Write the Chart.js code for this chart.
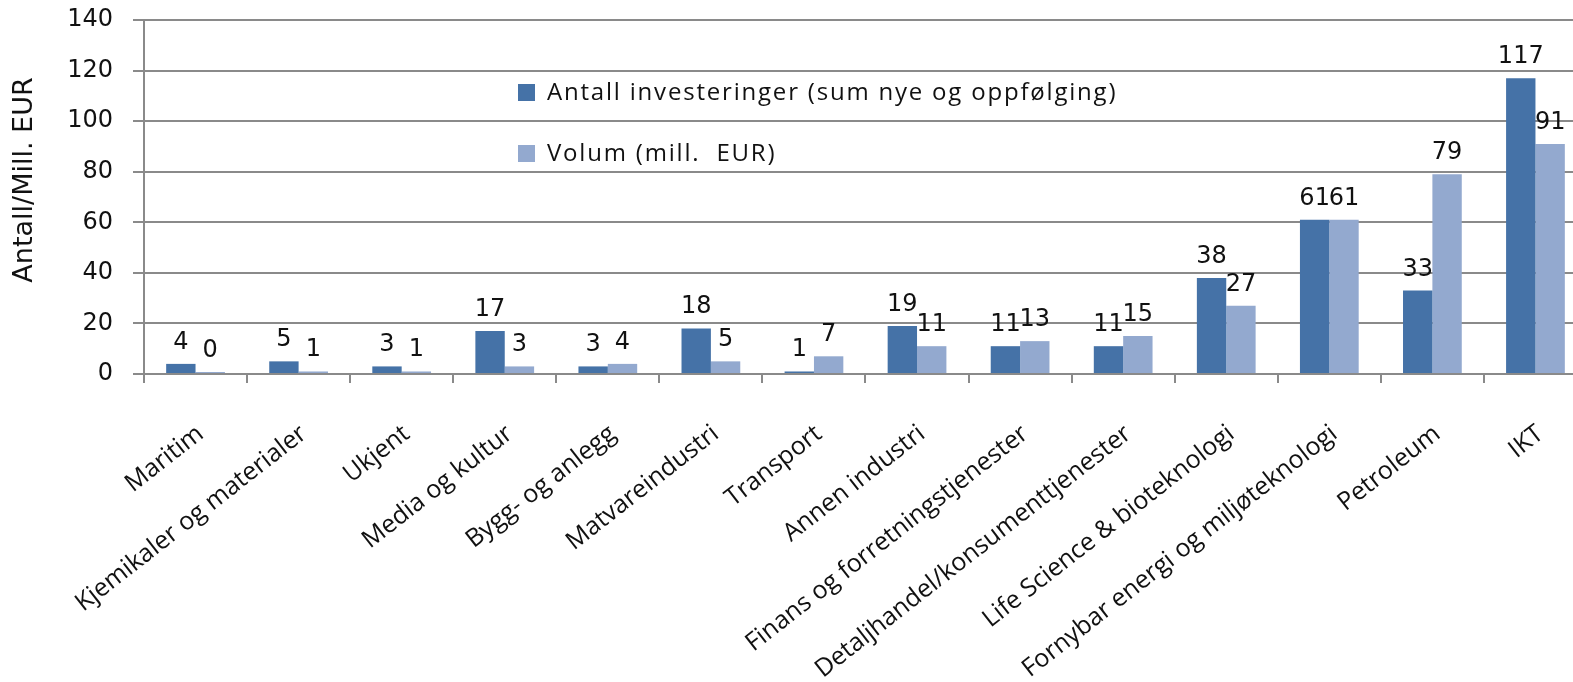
<!DOCTYPE html>
<html>
<head>
<meta charset="utf-8">
<script src="https://cdn.jsdelivr.net/npm/chart.js@4.4.1/dist/chart.umd.min.js"></script>
<style>
  html, body { margin: 0; padding: 0; background: #fff; overflow: hidden; }
  #wrap { position: absolute; left: 0; top: 0; width: 1590px; height: 682px; }
</style>
</head>
<body>
<div id="wrap"><canvas id="chart"></canvas></div>
<script>
// Sectors, in the order they are plotted
const categories = [
  'Maritim',
  'Kjemikaler og materialer',
  'Ukjent',
  'Media og kultur',
  'Bygg- og anlegg',
  'Matvareindustri',
  'Transport',
  'Annen industri',
  'Finans og forretningstjenester',
  'Detaljhandel/konsumenttjenester',
  'Life Science & bioteknologi',
  'Fornybar energi og miljøteknologi',
  'Petroleum',
  'IKT'
];

// Number of investments (new + follow-up) per sector
const antallInvesteringer = [4, 5, 3, 17, 3, 18, 1, 19, 11, 11, 38, 61, 33, 117];
// Invested volume, million EUR
const volumMillEur = [0, 1, 1, 3, 4, 5, 7, 11, 13, 15, 27, 61, 79, 91];

const seriesNames = ['Antall investeringer (sum nye og oppfølging)', 'Volum (mill.  EUR)'];
const seriesColors = ['#4572A7', '#93A9CF'];

const yTicks = [0, 20, 40, 60, 80, 100, 120, 140];
const yTitle = 'Antall/Mill. EUR';

const GRID = '#8a8a8a';
const TEXT = '#111111';

// Legend drawn inside the plot area, two stacked rows
const legendInPlot = {
  id: 'legendInPlot',
  afterDraw(chart) {
    const { ctx, chartArea } = chart;
    const x0 = chartArea.left + 374;
    const rows = [92, 153];
    ctx.save();
    chart.data.datasets.forEach((ds, i) => {
      const cy = rows[i];
      ctx.fillStyle = ds.backgroundColor;
      ctx.fillRect(x0, cy - 8, 17, 17);
      ctx.fillStyle = TEXT;
      ctx.font = '24px "Open Sans"';
      ctx.letterSpacing = '1.8px';
      ctx.textAlign = 'left';
      ctx.textBaseline = 'middle';
      ctx.fillText(ds.label, x0 + 29, cy + 1);
    });
    ctx.restore();
  }
};

// Vertical axis title, left of the tick labels
const axisTitle = {
  id: 'axisTitle',
  afterDraw(chart) {
    const { ctx, chartArea } = chart;
    ctx.save();
    ctx.translate(25, chartArea.top + 160);
    ctx.rotate(-Math.PI / 2);
    ctx.font = '27px "DejaVu Sans"';
    ctx.fillStyle = TEXT;
    ctx.textAlign = 'center';
    ctx.textBaseline = 'middle';
    ctx.fillText(yTitle, 0, 0);
    ctx.restore();
  }
};

// Value printed above each bar
const valueLabels = {
  id: 'valueLabels',
  afterDatasetsDraw(chart) {
    const ctx = chart.ctx;
    ctx.save();
    ctx.font = '24px "DejaVu Sans"';
    ctx.fillStyle = TEXT;
    ctx.textAlign = 'center';
    ctx.textBaseline = 'alphabetic';
    chart.data.datasets.forEach((ds, i) => {
      chart.getDatasetMeta(i).data.forEach((bar, j) => {
        ctx.fillText(String(ds.data[j]), bar.x, bar.y - 15);
      });
    });
    ctx.restore();
  }
};

new Chart(document.getElementById('chart'), {
  type: 'bar',
  data: {
    labels: categories,
    datasets: [
      { label: seriesNames[0], data: antallInvesteringer, backgroundColor: seriesColors[0] },
      { label: seriesNames[1], data: volumMillEur, backgroundColor: seriesColors[1] }
    ]
  },
  options: {
    responsive: true,
    maintainAspectRatio: false,
    animation: false,
    events: [],
    layout: { padding: { top: 20, right: 2, bottom: 0, left: 0 } },
    datasets: {
      bar: { categoryPercentage: 0.57, barPercentage: 1.0, minBarLength: 2, borderWidth: 0 }
    },
    plugins: {
      legend: { display: false },
      tooltip: { enabled: false },
      title: { display: false }
    },
    scales: {
      x: {
        grid: { display: true, drawOnChartArea: false, drawTicks: true, tickLength: 9, color: GRID, lineWidth: 2, offset: true },
        border: { display: true, color: GRID, width: 2 },
        ticks: {
          autoSkip: false, maxRotation: 38, minRotation: 38, padding: 36, labelOffset: 5,
          color: TEXT, font: { family: '"Open Sans"', size: 25 }
        },
        afterFit(scale) { scale.height = 308; }
      },
      y: {
        min: yTicks[0],
        max: yTicks[yTicks.length - 1],
        afterBuildTicks(scale) { scale.ticks = yTicks.map(v => ({ value: v })); },
        ticks: { padding: 20, color: TEXT, font: { family: '"DejaVu Sans"', size: 24 } },
        grid: { color: GRID, lineWidth: 2, tickLength: 11 },
        border: { display: true, color: GRID, width: 2 },
        title: { display: false },
        afterFit(scale) {
          scale.width = 144;
          scale.paddingTop = 0;
          scale.paddingBottom = 0;
        }
      }
    }
  },
  plugins: [valueLabels, legendInPlot, axisTitle]
});
</script>
</body>
</html>
